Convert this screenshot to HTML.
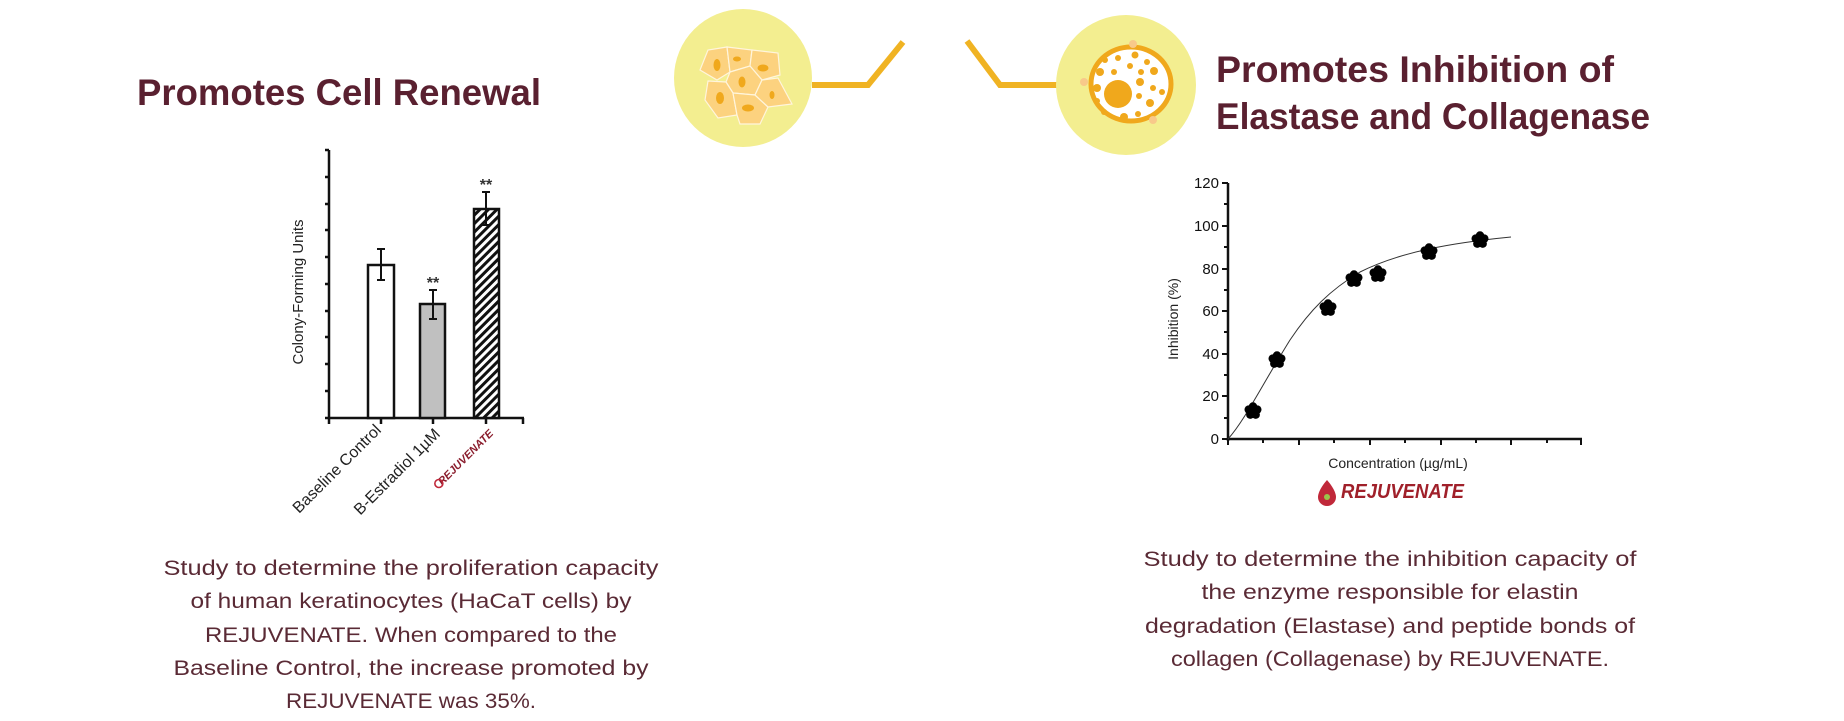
<!DOCTYPE html>
<html><head><meta charset="utf-8"><style>
html,body{margin:0;padding:0;background:#fff;}
body{width:1844px;height:721px;overflow:hidden;position:relative;}
svg{position:absolute;left:0;top:0;}
</style></head><body>
<svg width="1844" height="721" viewBox="0 0 1844 721" xmlns="http://www.w3.org/2000/svg" font-family="Liberation Sans, sans-serif">
<defs>
<pattern id="hatch" patternUnits="userSpaceOnUse" width="6" height="6" patternTransform="rotate(45)">
<rect width="6" height="6" fill="#fff"/><rect width="3" height="6" fill="#111"/>
</pattern>
<g id="flower"><circle cx="0" cy="-4.5" r="4.2"/><circle cx="4.3" cy="-1.4" r="4.2"/><circle cx="2.7" cy="3.7" r="4.2"/><circle cx="-2.7" cy="3.7" r="4.2"/><circle cx="-4.3" cy="-1.4" r="4.2"/><circle r="4"/></g>
</defs>

<polyline points="812,85 868,85 903,42" fill="none" stroke="#f0b323" stroke-width="6"/>
<polyline points="967,41 1000,85 1060,85" fill="none" stroke="#f0b323" stroke-width="6"/>

<circle cx="743" cy="78" r="69" fill="#f3ee90"/>
<g fill="#fcd27f" stroke="#fff5dc" stroke-width="1.2">
<polygon points="700,70 708,50 727,47 730,72 717,80"/>
<polygon points="727,47 752,50 750,66 730,72"/>
<polygon points="752,50 778,53 780,75 762,80 750,66"/>
<polygon points="730,72 750,66 762,80 755,95 733,93 726,82"/>
<polygon points="708,81 726,82 733,93 737,115 718,118 705,100"/>
<polygon points="733,93 755,95 768,107 760,124 740,124 737,115"/>
<polygon points="762,80 778,78 792,104 768,107 755,95"/>
</g>
<g fill="#f0a81c">
<ellipse cx="717" cy="65" rx="3.5" ry="6"/>
<ellipse cx="737" cy="59" rx="4" ry="2.5"/>
<ellipse cx="763" cy="68" rx="5.5" ry="3.5"/>
<ellipse cx="742" cy="82" rx="3.5" ry="5.5"/>
<ellipse cx="720" cy="98" rx="4" ry="6"/>
<ellipse cx="748" cy="108" rx="6" ry="3.5"/>
<ellipse cx="772" cy="95" rx="2.5" ry="4"/>
</g>

<circle cx="1126" cy="85" r="70" fill="#f3ee90"/>
<ellipse cx="1131" cy="84" rx="40" ry="37" fill="#fff" stroke="#f0a81c" stroke-width="5"/>
<g fill="#f0a81c">
<circle cx="1118" cy="94" r="14"/>
<circle cx="1105" cy="60" r="3"/><circle cx="1118" cy="58" r="3"/><circle cx="1135" cy="55" r="3.5"/><circle cx="1147" cy="62" r="3"/>
<circle cx="1100" cy="72" r="4"/><circle cx="1114" cy="72" r="3"/><circle cx="1130" cy="66" r="3"/><circle cx="1141" cy="72" r="3"/><circle cx="1154" cy="71" r="4"/>
<circle cx="1097" cy="88" r="4"/><circle cx="1140" cy="82" r="4"/><circle cx="1153" cy="88" r="3"/><circle cx="1162" cy="92" r="3"/>
<circle cx="1097" cy="101" r="3"/><circle cx="1139" cy="96" r="3"/><circle cx="1150" cy="103" r="4"/><circle cx="1104" cy="112" r="3"/><circle cx="1124" cy="117" r="4"/><circle cx="1138" cy="114" r="3"/>
</g>
<g fill="#f8c98a"><circle cx="1133" cy="44" r="4"/><circle cx="1084" cy="82" r="4"/><circle cx="1153" cy="120" r="4"/></g>

<g fill="#5a2030" font-weight="bold" font-size="37">
<text x="137" y="105" textLength="404" lengthAdjust="spacingAndGlyphs">Promotes Cell Renewal</text>
<text x="1216" y="82" textLength="398" lengthAdjust="spacingAndGlyphs">Promotes Inhibition of</text>
<text x="1216" y="129" textLength="434" lengthAdjust="spacingAndGlyphs">Elastase and Collagenase</text>
</g>

<g stroke="#111" stroke-width="2.5" fill="none">
<line x1="329" y1="150" x2="329" y2="419"/>
<line x1="325" y1="418" x2="524" y2="418"/>
<line x1="325" y1="150" x2="329" y2="150"/><line x1="325" y1="177" x2="329" y2="177"/><line x1="325" y1="204" x2="329" y2="204"/><line x1="325" y1="230" x2="329" y2="230"/><line x1="325" y1="257" x2="329" y2="257"/><line x1="325" y1="284" x2="329" y2="284"/><line x1="325" y1="311" x2="329" y2="311"/><line x1="325" y1="337" x2="329" y2="337"/><line x1="325" y1="364" x2="329" y2="364"/><line x1="325" y1="391" x2="329" y2="391"/>
<line x1="329" y1="418" x2="329" y2="424"/><line x1="381" y1="418" x2="381" y2="424"/><line x1="433" y1="418" x2="433" y2="424"/><line x1="486" y1="418" x2="486" y2="424"/><line x1="523" y1="418" x2="523" y2="424"/>
</g>
<rect x="368" y="265" width="26" height="153" fill="#fff" stroke="#111" stroke-width="2.5"/>
<rect x="420" y="304" width="25" height="114" fill="#c0c0c0" stroke="#111" stroke-width="2.5"/>
<rect x="474" y="209" width="25" height="209" fill="url(#hatch)" stroke="#111" stroke-width="2.5"/>
<g stroke="#111" stroke-width="2">
<line x1="381" y1="249" x2="381" y2="280"/><line x1="377" y1="249" x2="385" y2="249"/><line x1="377" y1="280" x2="385" y2="280"/>
<line x1="433" y1="290" x2="433" y2="319"/><line x1="429" y1="290" x2="437" y2="290"/><line x1="429" y1="319" x2="437" y2="319"/>
<line x1="486" y1="192" x2="486" y2="225"/><line x1="482" y1="192" x2="490" y2="192"/><line x1="482" y1="225" x2="490" y2="225"/>
</g>
<g fill="#333" font-size="16" font-weight="bold" text-anchor="middle">
<text x="433" y="288">**</text><text x="486" y="190">**</text>
</g>
<text transform="translate(303,292) rotate(-90)" font-size="15" fill="#222" text-anchor="middle">Colony-Forming Units</text>
<g font-size="16" fill="#222" text-anchor="end">
<text transform="translate(382,431) rotate(-45)">Baseline Control</text>
<text transform="translate(441,435) rotate(-45)">B-Estradiol 1µM</text>
</g>
<g transform="translate(494,434) rotate(-45)">
<text x="0" y="0" font-size="11" font-weight="bold" font-style="italic" fill="#8a1c2c" text-anchor="end">REJUVENATE</text>
<circle cx="-74" cy="-4" r="4" fill="none" stroke="#c0283a" stroke-width="1.6"/>
</g>

<g fill="#5a2a35" font-size="21" text-anchor="middle">
<text x="411" y="575" textLength="495" lengthAdjust="spacingAndGlyphs">Study to determine the proliferation capacity</text>
<text x="411" y="608" textLength="441" lengthAdjust="spacingAndGlyphs">of human keratinocytes (HaCaT cells) by</text>
<text x="411" y="642" textLength="412" lengthAdjust="spacingAndGlyphs">REJUVENATE. When compared to the</text>
<text x="411" y="675" textLength="475" lengthAdjust="spacingAndGlyphs">Baseline Control, the increase promoted by</text>
<text x="411" y="708" textLength="250" lengthAdjust="spacingAndGlyphs">REJUVENATE was 35%.</text>
</g>

<g stroke="#111" stroke-width="2.5" fill="none">
<line x1="1228" y1="183" x2="1228" y2="441"/>
<line x1="1227" y1="439" x2="1582" y2="439"/>
</g>
<g stroke="#111" stroke-width="2">
<line x1="1222" y1="183" x2="1228" y2="183"/><line x1="1222" y1="226" x2="1228" y2="226"/><line x1="1222" y1="269" x2="1228" y2="269"/><line x1="1222" y1="311" x2="1228" y2="311"/><line x1="1222" y1="354" x2="1228" y2="354"/><line x1="1222" y1="396" x2="1228" y2="396"/><line x1="1222" y1="439" x2="1228" y2="439"/>
<line x1="1224" y1="204" x2="1228" y2="204"/><line x1="1224" y1="247" x2="1228" y2="247"/><line x1="1224" y1="290" x2="1228" y2="290"/><line x1="1224" y1="332" x2="1228" y2="332"/><line x1="1224" y1="375" x2="1228" y2="375"/><line x1="1224" y1="418" x2="1228" y2="418"/>
<line x1="1263" y1="439" x2="1263" y2="443"/><line x1="1299" y1="439" x2="1299" y2="445"/><line x1="1334" y1="439" x2="1334" y2="443"/><line x1="1370" y1="439" x2="1370" y2="445"/><line x1="1405" y1="439" x2="1405" y2="443"/><line x1="1441" y1="439" x2="1441" y2="445"/><line x1="1476" y1="439" x2="1476" y2="443"/><line x1="1511" y1="439" x2="1511" y2="445"/><line x1="1547" y1="439" x2="1547" y2="443"/><line x1="1581" y1="439" x2="1581" y2="445"/><line x1="1228" y1="439" x2="1228" y2="445"/>
</g>
<g font-size="15" fill="#111" text-anchor="end">
<text x="1219" y="188">120</text><text x="1219" y="231">100</text><text x="1219" y="274">80</text><text x="1219" y="316">60</text><text x="1219" y="359">40</text><text x="1219" y="401">20</text><text x="1219" y="444">0</text>
</g>
<text transform="translate(1178,319) rotate(-90)" font-size="14" fill="#222" text-anchor="middle">Inhibition (%)</text>
<text x="1398" y="468" font-size="14" fill="#222" text-anchor="middle">Concentration (µg/mL)</text>
<path d="M1228,439 C1245,420 1262,385 1290,340 C1310,310 1330,290 1360,272 C1400,252 1450,243 1511,237" fill="none" stroke="#333" stroke-width="1"/>
<g fill="#000">
<use href="#flower" x="1253" y="411"/><use href="#flower" x="1277" y="360"/><use href="#flower" x="1328" y="308"/><use href="#flower" x="1354" y="279"/><use href="#flower" x="1378" y="274"/><use href="#flower" x="1429" y="252"/><use href="#flower" x="1480" y="240"/>
</g>
<path d="M1327,480 C1320,488 1318,494 1318,497 A9,9 0 0 0 1336,497 C1336,494 1334,488 1327,480 Z" fill="#c0283a"/>
<circle cx="1327" cy="497" r="3" fill="#9ac54a"/>
<text x="1341" y="498" font-size="20" font-weight="bold" font-style="italic" fill="#a0202a" textLength="123" lengthAdjust="spacingAndGlyphs">REJUVENATE</text>

<g fill="#5a2a35" font-size="21" text-anchor="middle">
<text x="1390" y="566" textLength="493" lengthAdjust="spacingAndGlyphs">Study to determine the inhibition capacity of</text>
<text x="1390" y="599" textLength="377" lengthAdjust="spacingAndGlyphs">the enzyme responsible for elastin</text>
<text x="1390" y="633" textLength="490" lengthAdjust="spacingAndGlyphs">degradation (Elastase) and peptide bonds of</text>
<text x="1390" y="666" textLength="438" lengthAdjust="spacingAndGlyphs">collagen (Collagenase) by REJUVENATE.</text>
</g>
</svg>
</body></html>
